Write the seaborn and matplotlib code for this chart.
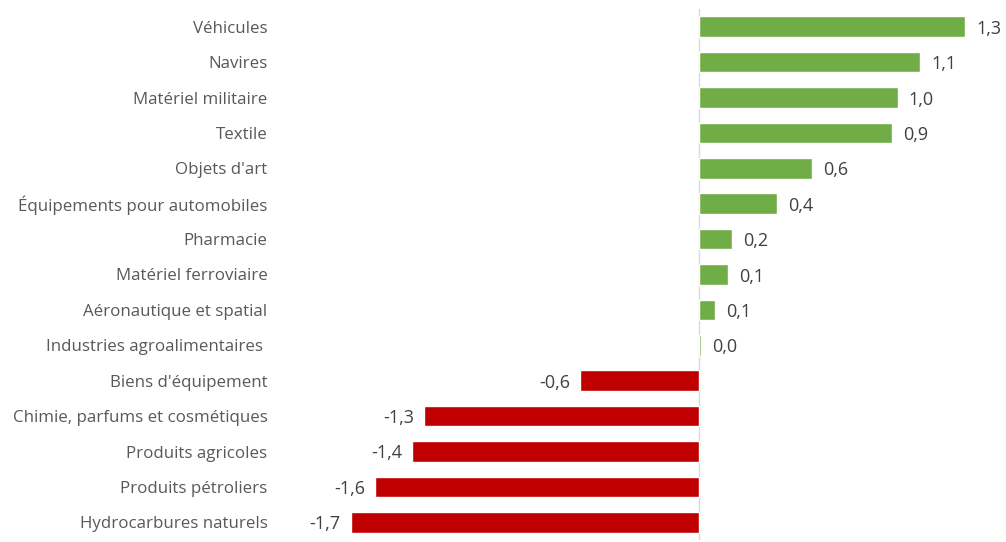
import numpy as np
import pandas as pd
import seaborn as sns
import matplotlib.pyplot as plt

sns.set_style("white")
plt.rcParams['font.family'] = ['Open Sans', 'DejaVu Sans']

# secteurs et contributions (points)
secteurs = ["Véhicules", "Navires", "Matériel militaire", "Textile", "Objets d'art",
            "Équipements pour automobiles", "Pharmacie", "Matériel ferroviaire",
            "Aéronautique et spatial", "Industries agroalimentaires ",
            "Biens d'équipement", "Chimie, parfums et cosmétiques",
            "Produits agricoles", "Produits pétroliers", "Hydrocarbures naturels"]
valeurs = [1.30, 1.08, 0.97, 0.94, 0.55, 0.38, 0.16, 0.14, 0.08, 0.01,
           -0.58, -1.34, -1.40, -1.58, -1.70]

df = pd.DataFrame({"secteur": secteurs, "valeur": valeurs})
df["signe"] = np.where(df["valeur"] >= 0, "pos", "neg")

fig = plt.figure(figsize=(10.06, 5.42), dpi=100)
ax = fig.add_axes([280 / 1006, 2 / 542, 726 / 1006, 531 / 542])

sns.barplot(data=df, x="valeur", y="secteur", hue="signe", orient="h",
            palette={"pos": "#70AD47", "neg": "#C00000"}, dodge=False,
            saturation=1, legend=False, width=0.58, ax=ax)

ax.axvline(0, color="#d9d9d9", lw=1, zorder=0)
ax.set_xlim(-2.044, 1.498)
ax.set_ylim(14.5, -0.5)

for i, v in enumerate(valeurs):
    txt = f"{v:.1f}".replace(".", ",")
    if v >= 0:
        ax.annotate(txt, (v, i), xytext=(8, 0), textcoords="offset points",
                    ha="left", va="center_baseline", fontsize=13, color="#404040")
    else:
        ax.annotate(txt, (v, i), xytext=(-7, 0), textcoords="offset points",
                    ha="right", va="center_baseline", fontsize=13, color="#404040")

ax.set_xlabel("")
ax.set_ylabel("")
ax.set_xticks([])
ax.tick_params(axis="y", length=0, pad=9, labelsize=12.2, labelcolor="#595959")
sns.despine(ax=ax, left=True, bottom=True)

fig.savefig("out.png", dpi=100)
